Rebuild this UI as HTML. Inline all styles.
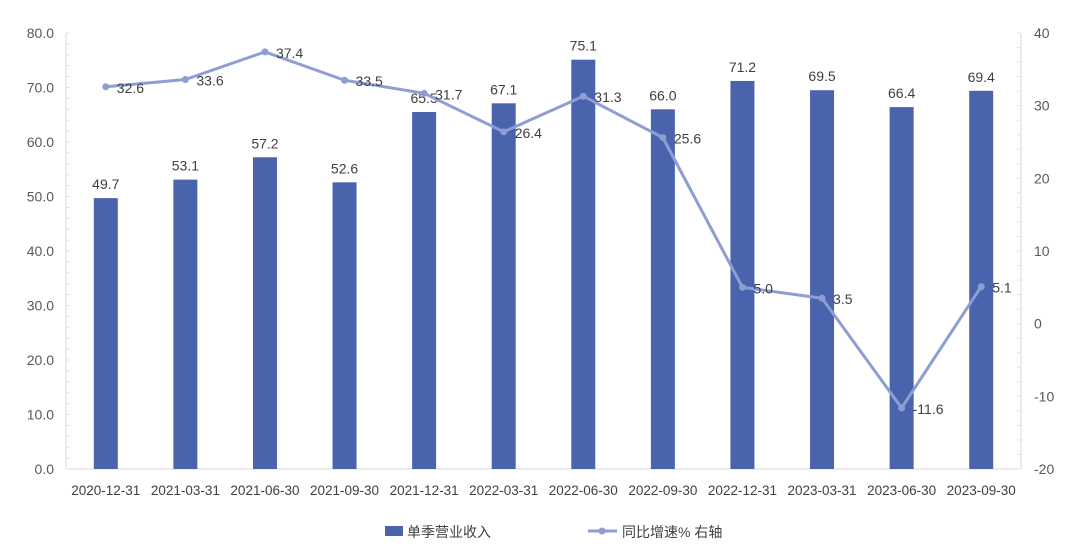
<!DOCTYPE html>
<html><head><meta charset="utf-8"><style>
body{margin:0;background:#fff;}
svg{font-family:"Liberation Sans","Noto Sans CJK SC",sans-serif;}
</style></head><body>
<svg id="c" width="1080" height="553"></svg>
<script>
const categories=["2020-12-31","2021-03-31","2021-06-30","2021-09-30","2021-12-31","2022-03-31","2022-06-30","2022-09-30","2022-12-31","2023-03-31","2023-06-30","2023-09-30"];
const revenue=[49.7,53.1,57.2,52.6,65.5,67.1,75.1,66.0,71.2,69.5,66.4,69.4];
const growth=[32.6,33.6,37.4,33.5,31.7,26.4,31.3,25.6,5.0,3.5,-11.6,5.1];
const leftTicks=[0,10,20,30,40,50,60,70,80];
const rightTicks=[-20,-10,0,10,20,30,40];
const svg=document.getElementById('c');
const NS='http://www.w3.org/2000/svg';
function mk(t,a,p){const e=document.createElementNS(NS,t);for(const k in a)e.setAttribute(k,a[k]);(p||svg).appendChild(e);return e;}
const L=66,R=1021,T=33,B=469;
const step=(R-L)/categories.length;
const xc=i=>L+step*(i+0.5);
const yl=v=>B-(v-0)/80*(B-T);
const yr=v=>B-(v+20)/60*(B-T);
// axes
let a=mk('line',{x1:L,y1:T,x2:L,y2:B,stroke:'#d9d9d9'});

a=mk('line',{x1:R,y1:T,x2:R,y2:B,stroke:'#d9d9d9'});

a=mk('line',{x1:L,y1:B,x2:R,y2:B,stroke:'#d9d9d9'});

for(let v=0;v<=80;v+=2){const y=yl(v);const t=mk('line',{x1:L,y1:y,x2:L+4,y2:y,stroke:'#e3e3e3'});}
for(let v=-20;v<=40;v+=2){const y=yr(v);const t=mk('line',{x1:R-4,y1:y,x2:R,y2:y,stroke:'#e3e3e3'});}
leftTicks.forEach(v=>{const t=mk('text',{x:54,y:yl(v)+5,'text-anchor':'end','font-size':14,fill:'#595959'});t.textContent=v.toFixed(1);});
rightTicks.forEach(v=>{const t=mk('text',{x:1034,y:yr(v)+5,'font-size':14,fill:'#595959'});t.textContent=v;});
categories.forEach((c,i)=>{const t=mk('text',{x:xc(i),y:495,'text-anchor':'middle','font-size':13.5,fill:'#404040'});t.textContent=c;});
// bars
revenue.forEach((v,i)=>{const b=mk('rect',{x:xc(i)-12,y:yl(v),width:24,height:B-yl(v),fill:'#4a63ad'});
const t=mk('text',{x:xc(i),y:yl(v)-9,'text-anchor':'middle','font-size':14,fill:'#404040'});t.textContent=v.toFixed(1);});
// line
const pl=mk('polyline',{points:growth.map((v,i)=>xc(i)+','+yr(v)).join(' '),fill:'none',stroke:'#8e9ed3','stroke-width':3,'stroke-linejoin':'round'});

growth.forEach((v,i)=>{const d=mk('circle',{cx:xc(i),cy:yr(v),r:3.5,fill:'#8e9ed3'});
const t=mk('text',{x:xc(i)+11,y:yr(v)+6,'font-size':14,fill:'#404040'});t.textContent=v.toFixed(1);});
// legend
let g=mk('rect',{x:385,y:526,width:18,height:10,fill:'#4a63ad'});
g=mk('text',{x:407,y:537,'font-size':14,fill:'#404040'});g.textContent='单季营业收入';
g=mk('line',{x1:588,y1:531,x2:617,y2:531,stroke:'#8e9ed3','stroke-width':3});
g=mk('circle',{cx:602,cy:531,r:3.5,fill:'#8e9ed3'});
g=mk('text',{x:622,y:537,'font-size':14,fill:'#404040'});g.textContent='同比增速% 右轴';
</script>
</body></html>
